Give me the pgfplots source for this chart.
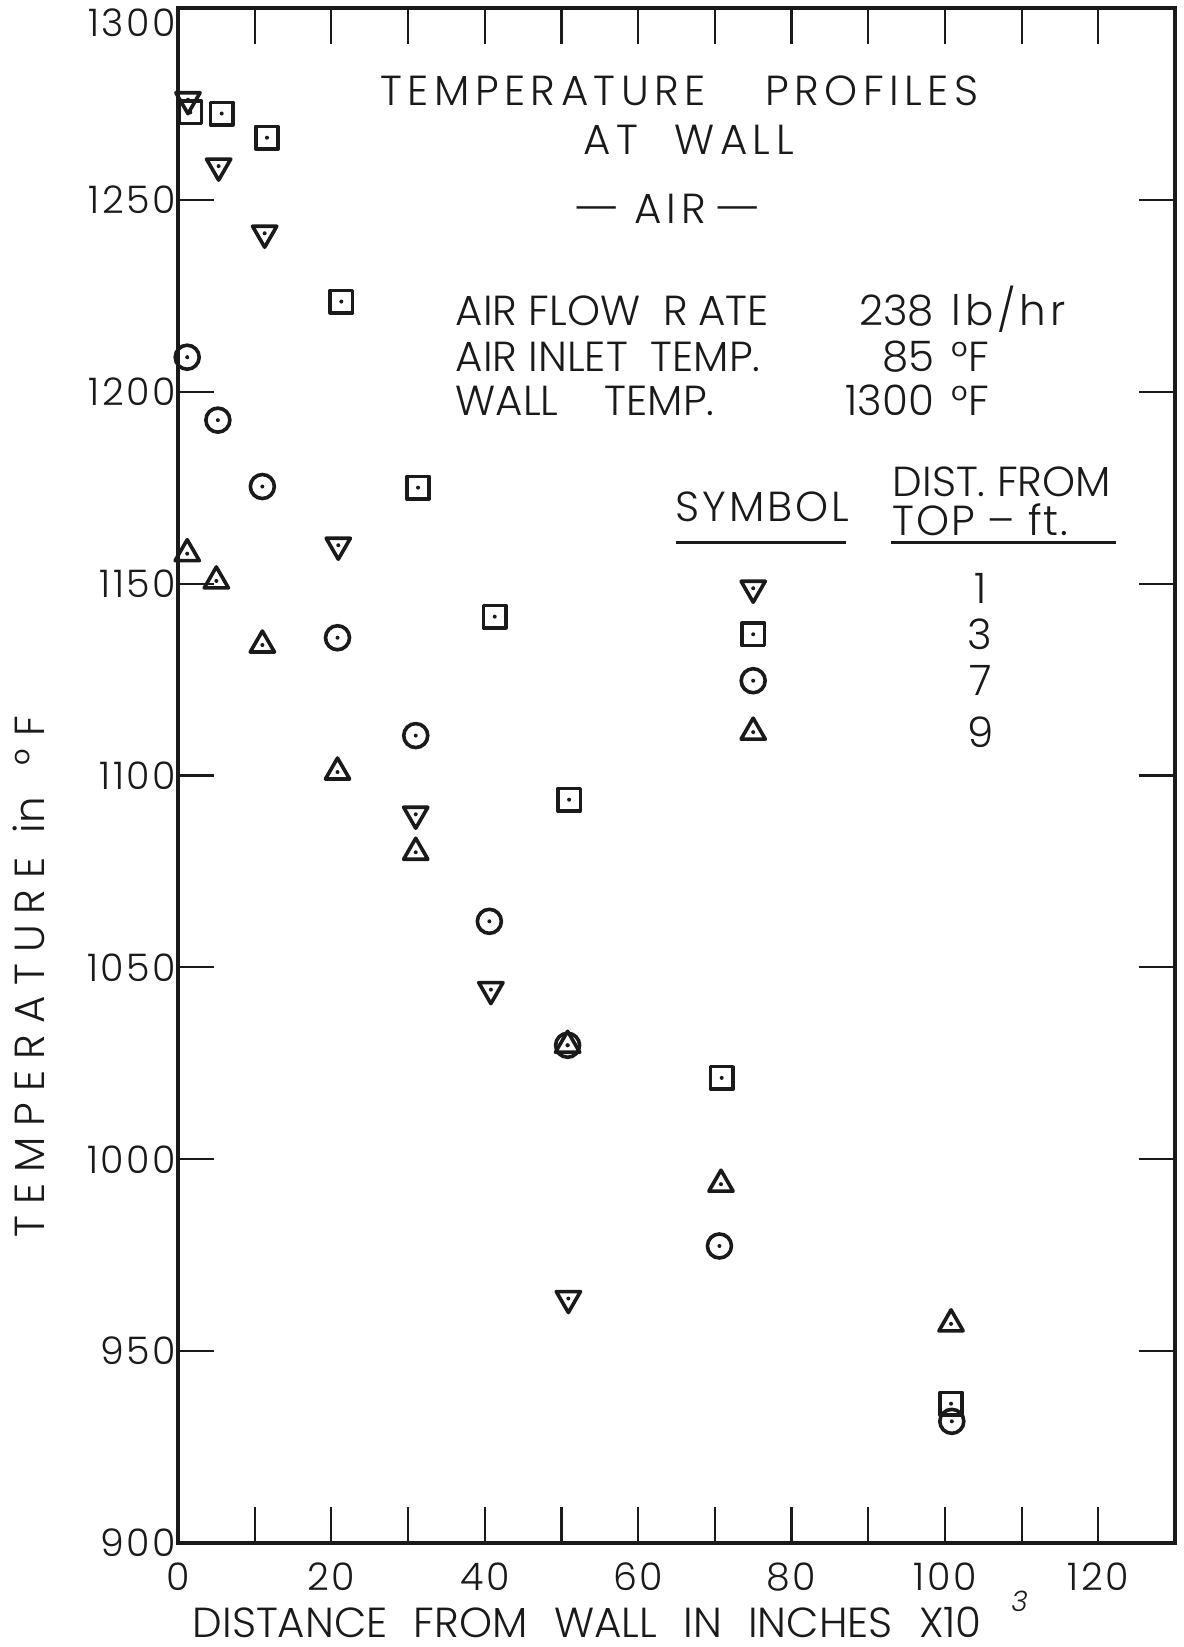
\documentclass[border=0pt]{standalone}
\usepackage{fontspec}
\setmainfont{Poppins Light}
\usepackage{graphicx}
\usepackage{pgfplots}
\pgfplotsset{compat=1.18}
\definecolor{ink}{HTML}{1A1A1A}

% plot marks with a centre dot, as drawn on the original sheet
\pgfdeclareplotmark{tridown}{%
  \pgfsetroundjoin
  \pgfpathmoveto{\pgfpointpolar{270}{\pgfplotmarksize}}%
  \pgfpathlineto{\pgfpointpolar{30}{\pgfplotmarksize}}%
  \pgfpathlineto{\pgfpointpolar{150}{\pgfplotmarksize}}%
  \pgfpathclose
  \pgfusepathqstroke
  \pgfpathcircle{\pgfpointorigin}{0.5bp}%
  \pgfusepathqfill}
\pgfdeclareplotmark{triup}{%
  \pgfsetroundjoin
  \pgfpathmoveto{\pgfpointpolar{90}{\pgfplotmarksize}}%
  \pgfpathlineto{\pgfpointpolar{210}{\pgfplotmarksize}}%
  \pgfpathlineto{\pgfpointpolar{330}{\pgfplotmarksize}}%
  \pgfpathclose
  \pgfusepathqstroke
  \pgfpathcircle{\pgfpointorigin}{0.5bp}%
  \pgfusepathqfill}
\pgfdeclareplotmark{sqdot}{%
  \pgfsetroundjoin
  \pgfpathmoveto{\pgfpoint{-\pgfplotmarksize}{-\pgfplotmarksize}}%
  \pgfpathlineto{\pgfpoint{\pgfplotmarksize}{-\pgfplotmarksize}}%
  \pgfpathlineto{\pgfpoint{\pgfplotmarksize}{\pgfplotmarksize}}%
  \pgfpathlineto{\pgfpoint{-\pgfplotmarksize}{\pgfplotmarksize}}%
  \pgfpathclose
  \pgfusepathqstroke
  \pgfpathcircle{\pgfpointorigin}{0.5bp}%
  \pgfusepathqfill}
\pgfdeclareplotmark{cdot}{%
  \pgfpathcircle{\pgfpointorigin}{\pgfplotmarksize}%
  \pgfusepathqstroke
  \pgfpathcircle{\pgfpointorigin}{0.5bp}%
  \pgfusepathqfill}

\newcommand\lbl{\fontsize{10.5bp}{12bp}\selectfont}
\newcommand\ls[1]{\addfontfeatures{LetterSpace=#1}}
\newcommand\wdash{\scalebox{1.3}[1]{—}}

\begin{document}
\begin{tikzpicture}
\useasboundingbox (-44.5bp,-26bp) rectangle (251.5bp,385.75bp);
\begin{axis}[
    scale only axis,
    width=249.25bp, height=383.75bp,
    xmin=0, xmax=130, ymin=900, ymax=1300,
    clip=false,
    axis line style={line width=1bp, ink},
    tick align=inside,
    major tick length=9bp,
    tick style={line width=0.55bp, ink},
    xtick={0,10,...,120},
    xticklabels={0,,20,,40,,60,,80,,100,,120},
    ytick={900,950,...,1300},
    yticklabels={900,950,1000,1050,1100,1150,1200,1250,{\raisebox{-3.75bp}[\height][0pt]{1300}}},
    ticklabel style={font=\fontsize{9.5bp}{11bp}\selectfont\ls{7}, text=ink},
    xticklabel style={inner sep=0pt, yshift=-4.75bp},
    yticklabel style={inner sep=0pt, xshift=-0.2bp},
    mark options={draw=ink, fill=ink, line width=0.9bp},
]
% dist. from top 1 ft
\addplot[only marks, mark=tridown, mark size=3.5bp] coordinates {
  (1.3,1276.1) (5.3,1258.8) (11.3,1241.3) (20.9,1160.0)
  (31.0,1089.9) (40.8,1044.2) (50.9,963.7)};
% 3 ft
\addplot[only marks, mark=sqdot, mark size=2.8bp] coordinates {
  (1.6,1272.8) (5.7,1272.5) (11.6,1266.2) (21.3,1223.5) (31.3,1175.0)
  (41.3,1141.4) (51.0,1093.7) (70.9,1021.2) (100.8,936.3)};
% 7 ft
\addplot[only marks, mark=cdot, mark size=3bp] coordinates {
  (1.2,1209.0) (5.2,1192.6) (11.0,1175.3) (20.8,1135.9) (31.0,1110.4)
  (40.6,1062.0) (50.8,1029.7) (70.6,977.4) (100.9,931.7)};
% 9 ft
\addplot[only marks, mark=triup, mark size=3.5bp] coordinates {
  (1.2,1157.8) (5.0,1150.7) (11.0,1134.0) (20.8,1100.9) (31.0,1080.0)
  (50.8,1029.7) (70.8,993.5) (100.8,957.1)};

% key
\addplot[only marks, mark=tridown, mark size=3.5bp, forget plot] coordinates {(75,1148.8)};
\addplot[only marks, mark=sqdot, mark size=2.8bp, forget plot] coordinates {(75,1136.8)};
\addplot[only marks, mark=cdot, mark size=3bp, forget plot] coordinates {(75,1124.7)};
\addplot[only marks, mark=triup, mark size=3.5bp, forget plot] coordinates {(75,1111.3)};

\begin{scope}[every node/.style={font=\lbl, text=ink, inner sep=0pt}]
\node[anchor=base, font=\lbl\ls{13}] at (axis cs:65.4,1274.5) {TEMPERATURE\hspace{15bp}PROFILES};
\node[anchor=base, font=\lbl\ls{13}] at (axis cs:66.6,1261.9) {AT\hspace{9bp}WALL};
\node[anchor=base, font=\lbl\ls{13}] at (axis cs:63.8,1243.8) {\wdash\hspace{3.5bp}AIR\hspace{2bp}\wdash};

\node[anchor=base west] at (axis cs:36.1,1217.2) {AIR\ FLOW\ \ R\kern2.5bp ATE};
\node[anchor=base west] at (axis cs:36.1,1205.4) {AIR\ INLET\ \ TEMP.};
\node[anchor=base west] at (axis cs:36.1,1193.9) {WALL\hspace{1.1em}TEMP.};
\node[anchor=base east] at (axis cs:98.7,1217.2) {238};
\node[anchor=base east] at (axis cs:98.7,1205.4) {85};
\node[anchor=base east] at (axis cs:98.7,1193.9) {1300};
\node[anchor=base west, font=\lbl\ls{9}] at (axis cs:100.8,1217.2) {lb/hr};
\node[anchor=base west] at (axis cs:100.8,1205.4) {°F};
\node[anchor=base west] at (axis cs:100.8,1193.9) {°F};

\node[anchor=base, font=\lbl\ls{7}] at (axis cs:76.2,1166.3) {SYMBOL};
\node[anchor=base west] at (axis cs:93.1,1172.8) {DIST.\ FROM};
\node[anchor=base west, font=\lbl\ls{4}] at (axis cs:93.1,1162.5) {TOP – ft.};
\draw[ink, line width=0.75bp] (axis cs:64.9,1160.8) -- (axis cs:87.1,1160.8);
\draw[ink, line width=0.75bp] (axis cs:93.0,1160.8) -- (axis cs:122.3,1160.8);
\node at (axis cs:104.6,1148.8) {1};
\node at (axis cs:104.6,1136.8) {3};
\node at (axis cs:104.6,1124.7) {7};
\node at (axis cs:104.6,1111.3) {9};

\node[anchor=base west] at ([yshift=-23.5bp]rel axis cs:0.014,0)
  {DISTANCE\hspace{6.6bp}FROM\hspace{6.6bp}WALL\hspace{6.6bp}IN\hspace{6.6bp}INCHES\hspace{6.6bp}X10\hspace{0.7em}\raisebox{1.1ex}{\fontsize{7bp}{8bp}\selectfont\itshape 3}};
\node[rotate=90, anchor=base] at ([xshift=-33.25bp]rel axis cs:0,0.369)
  {{\ls{26}TEMPERATURE}\hspace{6bp}in\hspace{8bp}°\hspace{3bp}F};
\end{scope}
\end{axis}
\end{tikzpicture}
\end{document}
